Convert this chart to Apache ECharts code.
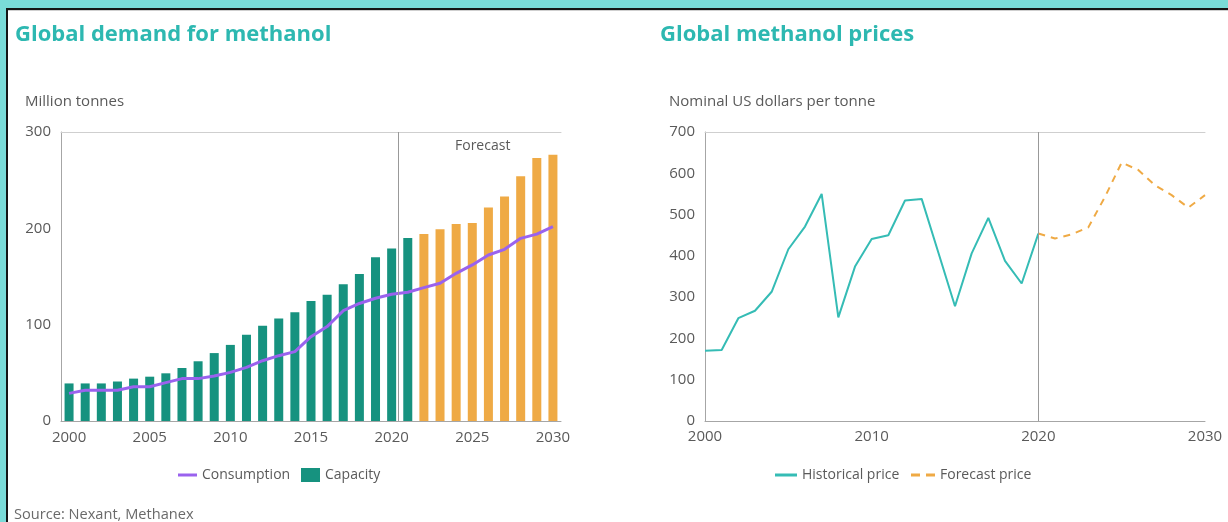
<!DOCTYPE html>
<html>
<head>
<meta charset="utf-8">
<script src="https://cdn.jsdelivr.net/npm/echarts@6/dist/echarts.min.js"></script>
<style>
  html, body { margin: 0; padding: 0; background: #fff; }
  #wrap { position: relative; width: 1228px; height: 522px; overflow: hidden; }
  #chart { position: absolute; left: 0; top: 0; width: 1228px; height: 522px; }
  .edge { position: absolute; pointer-events: none; }
</style>
</head>
<body>
<div id="wrap">
  <div id="chart"></div>
  <div class="edge" style="left:0;top:0;width:1228px;height:8px;background:#7adbd8"></div>
  <div class="edge" style="left:0;top:0;width:6px;height:522px;background:#7adbd8"></div>
  <div class="edge" style="left:6px;top:8px;width:1222px;height:2px;background:#151515"></div>
  <div class="edge" style="left:6px;top:8px;width:2px;height:514px;background:#151515"></div>
  <div class="edge" style="left:8px;top:10px;width:1220px;height:1px;background:#cfcfcf"></div>
</div>
<script>
// demand chart
const years = [];
for (let y = 2000; y <= 2030; y++) years.push(String(y));
const capacity = [39, 39, 39, 41, 44, 46, 49.5, 55, 62, 70.5, 79, 89.5, 99, 106.5, 113,
  124.5, 131, 142, 152.5, 170, 179, 190, 194, 199, 204.5, 205.5, 221.5, 233, 254, 273, 276.5];
const consumption = [28.7, 32, 32, 32, 35.6, 35.6, 39.8, 44, 44, 46.7, 50.5, 55.7, 62.6, 67.8, 72,
  87.5, 98, 114.5, 122, 127.4, 131.5, 133.6, 138.4, 143, 153.3, 162, 172.3, 178.2, 189.6, 194, 201.7];
const firstForecastIdx = 22; // 2022 onward drawn orange

// price chart
const histYears = [2000, 2001, 2002, 2003, 2004, 2005, 2006, 2007, 2008, 2009, 2010,
  2011, 2012, 2013, 2014, 2015, 2016, 2017, 2018, 2019, 2020];
const histPrice = [170, 172, 249, 267, 313, 416, 471, 550, 251, 374, 441,
  450, 534, 538, 408, 278, 406, 492, 388, 333, 454];
const fcYears = [2020, 2021, 2022, 2023, 2024, 2025, 2026, 2027, 2028, 2029, 2030];
const fcPrice = [454, 442, 452, 469, 543, 626, 608, 571, 547, 517, 547];

const TEAL = "#16927f", ORANGE = "#efaa45", PURPLE = "#9a62ee";
const HIST = "#35bcb5", GREY_TXT = "#5a5a5a", AXIS = "#a6a6a6";
const FONT = "'Open Sans', 'Noto Sans', sans-serif";

const chart = echarts.init(document.getElementById("chart"), null, { renderer: "canvas" });

const axisLabel = { color: GREY_TXT, fontSize: 15, fontFamily: FONT };
const legendText = { color: GREY_TXT, fontSize: 14, fontFamily: FONT };
const txt = (text, left, top, size, color, weight) => ({
  text, left, top, padding: 0,
  textStyle: { color, fontSize: size, fontWeight: weight || "normal", fontFamily: FONT }
});
// one legend per item so line icons and the bar swatch can differ in size
const lg = (name, left, w, h, icon, color) => ({
  left, top: 468, padding: 0, itemWidth: w, itemHeight: h, icon,
  data: [{ name, itemStyle: { color } }], textStyle: legendText
});

chart.setOption({
  animation: false,
  textStyle: { fontFamily: FONT },
  title: [
    txt("Global demand for methanol", 15, 24, 22, "#2db8b1", "bold"),
    txt("Million tonnes", 25, 94, 15, GREY_TXT),
    txt("Global methanol prices", 660, 24, 22, "#2db8b1", "bold"),
    txt("Nominal US dollars per tonne", 669, 94, 15, GREY_TXT),
    txt("Source: Nexant, Methanex", 14, 507, 14.6, "#6a6a6a")
  ],
  graphic: [
    { type: "text", left: 455, top: 139,
      style: { text: "Forecast", fill: GREY_TXT, fontSize: 14, fontFamily: FONT } }
  ],
  legend: [
    lg("Consumption", 178, 19, 3, "rect", PURPLE),
    lg("Capacity", 301, 19, 14, "rect", TEAL),
    lg("Historical price", 775, 22, 3, "rect", HIST),
    lg("Forecast price", 911, 24, 3, "path://M0,0 H9 V3 H0 Z M15,0 H24 V3 H15 Z", ORANGE)
  ],
  grid: [
    { left: 61, top: 132, right: 667, bottom: 101 },
    { left: 705, top: 132, right: 23, bottom: 101 }
  ],
  xAxis: [
    { gridIndex: 0, type: "category", data: years, boundaryGap: true,
      axisLine: { lineStyle: { color: AXIS } }, axisTick: { show: false },
      axisLabel: { ...axisLabel, interval: 4, margin: 9 } },
    { gridIndex: 0, type: "value", position: "top", min: -0.5, max: years.length - 0.5,
      axisLine: { show: true, onZero: false, lineStyle: { color: "#cfcfcf" } }, axisTick: { show: false },
      axisLabel: { show: false }, splitLine: { show: false } },
    { gridIndex: 1, type: "value", min: 2000, max: 2030, interval: 10,
      axisLine: { show: true, onZero: false, lineStyle: { color: AXIS } }, axisTick: { show: false },
      axisLabel: { ...axisLabel, margin: 8, formatter: (v) => String(v) }, splitLine: { show: false } },
    { gridIndex: 1, type: "value", position: "top", min: 2000, max: 2030,
      axisLine: { show: true, onZero: false, lineStyle: { color: "#cfcfcf" } }, axisTick: { show: false },
      axisLabel: { show: false }, splitLine: { show: false } }
  ],
  yAxis: [
    { gridIndex: 0, type: "value", min: 0, max: 300, interval: 100,
      axisLine: { show: true, onZero: false, lineStyle: { color: AXIS } }, axisTick: { show: false },
      axisLabel: { ...axisLabel, margin: 10 }, splitLine: { show: false } },
    { gridIndex: 1, type: "value", min: 0, max: 700, interval: 100,
      axisLine: { show: true, onZero: false, lineStyle: { color: AXIS } }, axisTick: { show: false },
      axisLabel: { ...axisLabel, margin: 10 }, splitLine: { show: false } }
  ],
  series: [
    { name: "Capacity", type: "bar", xAxisIndex: 0, yAxisIndex: 0, barWidth: 9,
      itemStyle: { color: (p) => (p.dataIndex >= firstForecastIdx ? ORANGE : TEAL) },
      data: capacity, z: 2 },
    { name: "Consumption", type: "line", xAxisIndex: 0, yAxisIndex: 0, symbol: "none",
      lineStyle: { color: PURPLE, width: 3 }, itemStyle: { color: PURPLE },
      data: consumption, z: 4 },
    { name: "divider", type: "line", xAxisIndex: 1, yAxisIndex: 0, symbol: "none",
      data: [[20.4, 0]], lineStyle: { opacity: 0 },
      markLine: { silent: true, symbol: "none", label: { show: false },
        lineStyle: { color: "#999", type: "solid", width: 1 }, data: [{ xAxis: 20.4 }] }, z: 3 },
    { name: "Historical price", type: "line", xAxisIndex: 2, yAxisIndex: 1, symbol: "none",
      lineStyle: { color: HIST, width: 2 }, itemStyle: { color: HIST },
      data: histYears.map((y, i) => [y, histPrice[i]]),
      markLine: { silent: true, symbol: "none", label: { show: false },
        lineStyle: { color: "#999", type: "solid", width: 1 }, data: [{ xAxis: 2020 }] } },
    { name: "Forecast price", type: "line", xAxisIndex: 2, yAxisIndex: 1, symbol: "none",
      lineStyle: { color: ORANGE, width: 2, type: [7, 6] }, itemStyle: { color: ORANGE },
      data: fcYears.map((y, i) => [y, fcPrice[i]]) }
  ]
});
</script>
</body>
</html>
